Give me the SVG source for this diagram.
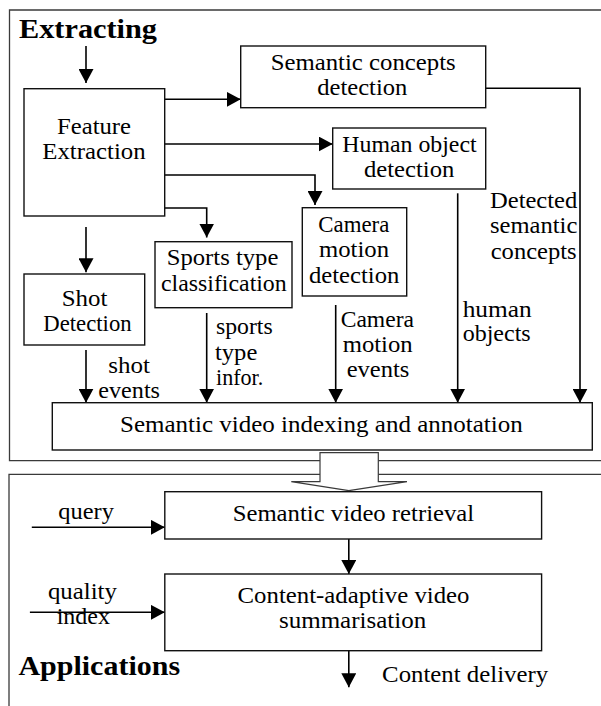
<svg xmlns="http://www.w3.org/2000/svg" width="601" height="706" viewBox="0 0 601 706">
  <style>
    .bg { fill: #ffffff; }
    .frame { fill: none; stroke: #3a3a3a; stroke-width: 1.3; }
    .box { fill: #ffffff; stroke: #111111; stroke-width: 1.4; }
    .wire { fill: none; stroke: #000000; stroke-width: 1.6; }
    .hollow { fill: #ffffff; stroke: #3a3a3a; stroke-width: 1.2; }
    text { font-family: "Liberation Serif", serif; font-size: 23px; fill: #000000; }
    .title { font-weight: bold; font-size: 26.5px; }
  </style>
  <defs>
    <marker id="head" markerUnits="userSpaceOnUse" viewBox="0 0 14 15" markerWidth="14" markerHeight="15" refX="14" refY="7.5" orient="auto">
      <path d="M0,0 L14,7.5 L0,15 Z" fill="#000000"/>
    </marker>
  </defs>

  <rect class="bg" x="0" y="0" width="601" height="706"/>

  <!-- section frames -->
  <g id="frame-extracting">
    <path class="frame" d="M612,10 H9.5 V460.7 H612"/>
    <text class="title" x="19" y="38" textLength="138" lengthAdjust="spacingAndGlyphs">Extracting</text>
  </g>
  <g id="frame-applications">
    <path class="frame" d="M612,474.3 H9 V720"/>
    <text class="title" x="18.4" y="675" textLength="161.7" lengthAdjust="spacingAndGlyphs">Applications</text>
  </g>

  <!-- hollow transfer arrow between the two sections -->
  <g id="transfer-arrow">
    <path class="hollow" d="M320,452.7 H378.3 V481.7 H407 L348.8,490.7 L291.3,481.7 H320 Z"/>
  </g>

  <!-- connectors -->
  <g id="connectors">
    <path class="wire" d="M86,46 V83" marker-end="url(#head)"/>
    <path class="wire" d="M164.7,99.3 H240.7" marker-end="url(#head)"/>
    <path class="wire" d="M164.7,144 H332.7" marker-end="url(#head)"/>
    <path class="wire" d="M164.7,175 H315 V205" marker-end="url(#head)"/>
    <path class="wire" d="M164.7,208 H206.7 V237.5" marker-end="url(#head)"/>
    <path class="wire" d="M86,227 V272.3" marker-end="url(#head)"/>
    <path class="wire" d="M86,350 V402.7" marker-end="url(#head)"/>
    <path class="wire" d="M206.7,313 V402.7" marker-end="url(#head)"/>
    <path class="wire" d="M335.7,305 V402.7" marker-end="url(#head)"/>
    <path class="wire" d="M457.7,193.3 V402.7" marker-end="url(#head)"/>
    <path class="wire" d="M485.7,88.3 H580 V402.7" marker-end="url(#head)"/>
    <path class="wire" d="M31.8,527.3 H164.8" marker-end="url(#head)"/>
    <path class="wire" d="M348.8,539 V574" marker-end="url(#head)"/>
    <path class="wire" d="M29.9,612.3 H164.8" marker-end="url(#head)"/>
    <path class="wire" d="M348.8,650.7 V687.3" marker-end="url(#head)"/>
  </g>

  <!-- edge labels -->
  <g id="labels">
    <text x="108.3" y="373.3" textLength="41.7" lengthAdjust="spacingAndGlyphs">shot</text>
    <text x="98.3" y="398.3" textLength="61.7" lengthAdjust="spacingAndGlyphs">events</text>
    <text x="216" y="334" textLength="56.7" lengthAdjust="spacingAndGlyphs">sports</text>
    <text x="215" y="360" textLength="42.3" lengthAdjust="spacingAndGlyphs">type</text>
    <text x="216" y="385" textLength="47.3" lengthAdjust="spacingAndGlyphs">infor.</text>
    <text x="340.7" y="326.7" textLength="73.3" lengthAdjust="spacingAndGlyphs">Camera</text>
    <text x="342.7" y="351.7" textLength="70" lengthAdjust="spacingAndGlyphs">motion</text>
    <text x="346.7" y="376.7" textLength="62.7" lengthAdjust="spacingAndGlyphs">events</text>
    <text x="462.7" y="316.7" textLength="69" lengthAdjust="spacingAndGlyphs">human</text>
    <text x="462.7" y="340.7" textLength="68" lengthAdjust="spacingAndGlyphs">objects</text>
    <text x="490" y="208.3" textLength="87.3" lengthAdjust="spacingAndGlyphs">Detected</text>
    <text x="490" y="233.3" textLength="87.3" lengthAdjust="spacingAndGlyphs">semantic</text>
    <text x="490.7" y="259.3" textLength="86" lengthAdjust="spacingAndGlyphs">concepts</text>
    <text x="58.3" y="519" textLength="55.6" lengthAdjust="spacingAndGlyphs">query</text>
    <text x="47.9" y="599" textLength="69" lengthAdjust="spacingAndGlyphs">quality</text>
    <text x="56.7" y="624" textLength="53.3" lengthAdjust="spacingAndGlyphs">index</text>
    <text x="382.1" y="681.7" textLength="166" lengthAdjust="spacingAndGlyphs">Content delivery</text>
  </g>

  <!-- nodes -->
  <g id="feature-extraction">
    <rect class="box" x="24" y="88.7" width="140.7" height="127.3"/>
    <text x="57" y="134.3" textLength="74" lengthAdjust="spacingAndGlyphs">Feature</text>
    <text x="42.3" y="159.3" textLength="103.3" lengthAdjust="spacingAndGlyphs">Extraction</text>
  </g>
  <g id="semantic-concepts-detection">
    <rect class="box" x="240.7" y="46" width="245" height="61.7"/>
    <text x="270.7" y="70" textLength="185" lengthAdjust="spacingAndGlyphs">Semantic concepts</text>
    <text x="317.3" y="95" textLength="90" lengthAdjust="spacingAndGlyphs">detection</text>
  </g>
  <g id="human-object-detection">
    <rect class="box" x="332.7" y="128" width="153" height="61"/>
    <text x="342.3" y="151.7" textLength="134.3" lengthAdjust="spacingAndGlyphs">Human object</text>
    <text x="364" y="176.7" textLength="90.3" lengthAdjust="spacingAndGlyphs">detection</text>
  </g>
  <g id="camera-motion-detection">
    <rect class="box" x="302.3" y="207.7" width="104.4" height="88.3"/>
    <text x="318.3" y="231.7" textLength="71" lengthAdjust="spacingAndGlyphs">Camera</text>
    <text x="319" y="257" textLength="70" lengthAdjust="spacingAndGlyphs">motion</text>
    <text x="309" y="282.7" textLength="90.3" lengthAdjust="spacingAndGlyphs">detection</text>
  </g>
  <g id="sports-type-classification">
    <rect class="box" x="155" y="241.7" width="137" height="66"/>
    <text x="166.7" y="265" textLength="111.7" lengthAdjust="spacingAndGlyphs">Sports type</text>
    <text x="161" y="290.7" textLength="125.7" lengthAdjust="spacingAndGlyphs">classification</text>
  </g>
  <g id="shot-detection">
    <rect class="box" x="24" y="274" width="120.7" height="71"/>
    <text x="61.7" y="305.7" textLength="45.7" lengthAdjust="spacingAndGlyphs">Shot</text>
    <text x="43.3" y="331" textLength="88.3" lengthAdjust="spacingAndGlyphs">Detection</text>
  </g>
  <g id="semantic-indexing">
    <rect class="box" x="52.3" y="402.7" width="540" height="47.3"/>
    <text x="120" y="431.7" textLength="402.7" lengthAdjust="spacingAndGlyphs">Semantic video indexing and annotation</text>
  </g>
  <g id="semantic-retrieval">
    <rect class="box" x="164.8" y="491.7" width="376.8" height="47.3"/>
    <text x="232.7" y="521" textLength="241.5" lengthAdjust="spacingAndGlyphs">Semantic video retrieval</text>
  </g>
  <g id="video-summarisation">
    <rect class="box" x="164.8" y="574" width="376.8" height="76.7"/>
    <text x="237.6" y="603.3" textLength="231.9" lengthAdjust="spacingAndGlyphs">Content-adaptive video</text>
    <text x="279" y="628.3" textLength="147.2" lengthAdjust="spacingAndGlyphs">summarisation</text>
  </g>
</svg>
